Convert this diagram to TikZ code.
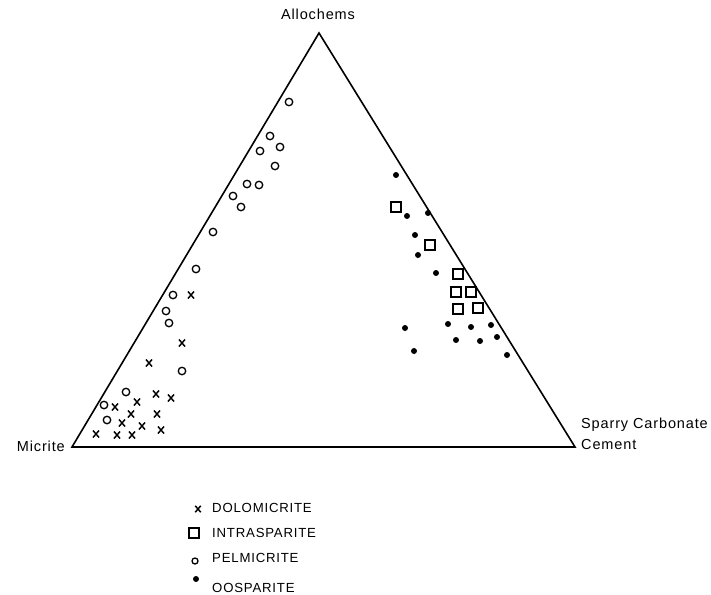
\documentclass[tikz,border=0pt]{standalone}
\usepackage{fontspec}
\setmainfont{Liberation Sans}[LetterSpace=6]
\usetikzlibrary{shapes.misc}
\begin{document}
\begin{tikzpicture}[x=1pt,y=-1pt,
  lbl/.style={font=\fontsize{14.5}{17}\selectfont, inner sep=0pt},
  leg/.style={font=\fontsize{13.2}{15}\selectfont, inner sep=0pt, anchor=west},
  pel/.style={circle, draw, line width=1.3pt, inner sep=0pt, minimum size=7.5pt},
  intra/.style={rectangle, draw, line width=1.2pt, inner sep=0pt, minimum size=10pt},
  oo/.style={circle, fill, inner sep=0pt, minimum size=6pt},
  dolo/.style={cross out, draw, line width=1.5pt, inner sep=0pt, minimum width=4.5pt, minimum height=5.5pt},
  edge/.style={line width=1.6pt, line join=miter}]
\useasboundingbox (0,0) rectangle (711,594);
\coordinate (A) at (319,33);
\coordinate (M) at (72,447);
\coordinate (S) at (575,447);
\draw[edge] (A) -- (M) -- (S) -- cycle;
\node[lbl] (lA) at (318,14) {Allochems};
\node[lbl, anchor=east] (lM) at (65,446) {Micrite};
\node[lbl, anchor=west] (lS1) at (581,425) {Sparry Carbonate};
\node[lbl, anchor=west] (lS2) at (581,445) {Cement};
% pelmicrite
\foreach \x/\y [count=\i] in {289/102,270/136,280/147,260/151,275/166,247/184,259/185,233/196,241/207,213/232,196/269,173/295,166/311,169/323,182/371,126/392,104/405,107/420}
  \node[pel] (c\i) at (\x,\y) {};
% dolomicrite
\foreach \x/\y [count=\i] in {191/295,182/343,149/363,156/394,171/398,137/402,115/407,131/414,157/414,122/423,142/426,161/430,96/434,117/435,132/435}
  \node[dolo] (d\i) at (\x,\y) {};
% intrasparite
\foreach \x/\y [count=\i] in {396/207,430/245,458/274,456/292,471/292,458/309,478/308}
  \node[intra] (s\i) at (\x,\y) {};
% oosparite
\foreach \x/\y [count=\i] in {396/175,407/216,428/213,415/235,418/255,436/273,405/328,448/324,471/327,491/325,456/340,480/341,497/337,414/351,507/355}
  \node[oo] (o\i) at (\x,\y) {};
% legend
\node[dolo, minimum width=4pt, minimum height=5pt] (kd) at (198,509) {};
\node[leg] (td) at (212,508) {DOLOMICRITE};
\node[intra] (ks) at (194,533) {};
\node[leg] (ts) at (212,533) {INTRASPARITE};
\node[pel, minimum size=6pt] (kc) at (195,561) {};
\node[leg] (tc) at (212,558) {PELMICRITE};
\node[oo] (ko) at (196,579) {};
\node[leg] (to) at (212,588) {OOSPARITE};
\end{tikzpicture}
\end{document}
